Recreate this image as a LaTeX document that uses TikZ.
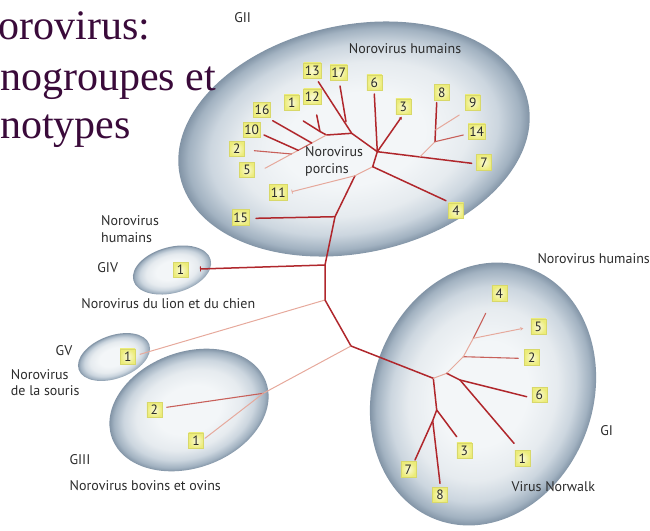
\documentclass[tikz,border=0pt]{standalone}
\usepackage{fontspec}
\setmainfont{PT Sans}
\newfontfamily\titlefont{Liberation Serif}
\usetikzlibrary{arrows.meta,calc}
\definecolor{ec0}{HTML}{F3F6F8}
\definecolor{ec1}{HTML}{E6EBEF}
\definecolor{ec2}{HTML}{CCD6DF}
\definecolor{ec3}{HTML}{A2B2C1}
\definecolor{ec4}{HTML}{8294A6}
\definecolor{dk}{HTML}{B0272C}
\definecolor{md}{HTML}{C8605A}
\definecolor{lt}{HTML}{E6A99C}
\definecolor{labfill}{HTML}{ECEC78}
\definecolor{labdraw}{HTML}{D8D86A}
\definecolor{txtc}{HTML}{2B2B2B}
\definecolor{titlec}{HTML}{3A0A3A}
\pgfdeclareradialshading{eggshade}{\pgfpointorigin}{color(0bp)=(ec0); color(10bp)=(ec0); color(16.5bp)=(ec1); color(20.5bp)=(ec2); color(23.6bp)=(ec3); color(25bp)=(ec4); color(50bp)=(ec4)}
\tikzset{
  br/.style={draw=dk, line width=1.5pt, line cap=round},
  brm/.style={draw=md, line width=1.1pt, line cap=round},
  brl/.style={draw=lt, line width=1pt, line cap=round},
  lab/.style={draw=labdraw, line width=0.6pt, inner color=white!70!labfill, outer color=labfill, text=txtc, font=\fontsize{13.5}{13.5}\selectfont, inner sep=1.2pt, minimum width=15pt, minimum height=15.5pt},
  txt/.style={font=\fontsize{14}{16.5}\selectfont, text=txtc, inner sep=0pt},
  ttl/.style={font=\titlefont\fontsize{42}{42}\selectfont, text=titlec, inner sep=0pt, anchor=base west},
  egg/.style={shading=eggshade}
}
\begin{document}
\begin{tikzpicture}[x=1pt, y=-1pt]
\useasboundingbox (0,0) rectangle (650,530);
% ellipses
\begin{scope}[transform canvas={rotate around={12:(354,139)}}]
  \shade[egg] (354,139) ellipse [x radius=178, y radius=114];
\end{scope}
\begin{scope}[transform canvas={rotate around={15:(172,270)}}]
  \shade[egg] (172,270) ellipse [x radius=40, y radius=23];
\end{scope}
\begin{scope}[transform canvas={rotate around={20:(114,357)}}]
  \shade[egg] (114,357) ellipse [x radius=37.5, y radius=21.5];
\end{scope}
\begin{scope}[transform canvas={rotate around={20:(189,410)}}]
  \shade[egg] (189,410) ellipse [x radius=82, y radius=58];
\end{scope}
\begin{scope}[transform canvas={rotate around={70:(483,394)}}]
  \shade[egg] (483,394) ellipse [x radius=134, y radius=110];
\end{scope}
% title
\node[ttl] (t1) at (-1.5,39) {orovirus:};
\node[ttl] (t2) at (0,90) {nogroupes et};
\node[ttl] (t3) at (0,138.5) {notypes};
% GII tree coordinates
\coordinate (e13) at (318.3,81.7);
\coordinate (j17) at (346,121.7);
\coordinate (e17) at (340,86);
\coordinate (P) at (351.7,133.3);
\coordinate (B) at (377.3,151.7);
\coordinate (D) at (326.5,135);
\coordinate (E) at (320,131.5);
\coordinate (e12) at (316.7,115);
\coordinate (e1) at (303.3,121);
\coordinate (e5) at (265,168.3);
\coordinate (j16) at ($(D)!0.24!(e5)$);
\coordinate (j10) at ($(D)!0.46!(e5)$);
\coordinate (j2) at ($(D)!0.57!(e5)$);
\coordinate (e16) at (272.7,120.7);
\coordinate (e10) at (264,135);
\coordinate (e2) at (254.3,150.7);
\coordinate (e6) at (374.3,94);
\coordinate (e3) at (401.7,116.7);
\coordinate (e7) at (471.7,163.3);
\coordinate (j8) at ($(B)!0.45!(e7)$);
\coordinate (K) at (435,141.7);
\coordinate (e8) at (436.7,102.7);
\coordinate (e14) at (463.3,135);
\coordinate (j9) at ($(K)!0.3!(e8)$);
\coordinate (e9) at (459.3,115);
\coordinate (A) at (372.7,166.7);
\coordinate (e4) at (446,200.7);
\coordinate (C) at (355,175.7);
\coordinate (e11) at (291.7,191.7);
\coordinate (T15) at (335,216.7);
\coordinate (e15) at (256,218.3);
\coordinate (TIV) at (325,265);
\coordinate (eIV) at (200,269);
\coordinate (TV) at (325,300);
\coordinate (eV) at (140,354.3);
\coordinate (R) at (351,346);
\coordinate (G3) at (263.3,393.3);
\coordinate (h2) at (166.7,407.3);
\coordinate (h1) at (205,438.3);
% GI coordinates
\coordinate (F) at (433.3,378.3);
\coordinate (G) at (436.7,410);
\coordinate (a3) at (456.7,436.7);
\coordinate (I) at (432.7,420.7);
\coordinate (a7) at (415,460);
\coordinate (a8) at (440,483.3);
\coordinate (H) at (446.7,373.3);
\coordinate (K2) at (460,380);
\coordinate (a6) at (526.7,396.7);
\coordinate (a1) at (514,443.3);
\coordinate (J) at (463.3,356.7);
\coordinate (a2) at (518.3,358.3);
\coordinate (L) at (473.3,338.3);
\coordinate (a4) at (485.7,313.3);
\coordinate (a5) at (523.3,328.3);
% GII branches
\draw[br] (TV) -- (TIV) -- (T15) -- (C);
\draw[brl] (C) -- (A);
\draw[br] (A) -- (B) -- (P) -- (e13);
\draw[br] (j17) -- (e17);
\draw[br] (A) -- (e4);
\draw[br] (P) -- (D) -- (E) -- (e12);
\draw[br] (E) -- (e1);
\draw[brl] (D) -- (j16);
\draw[brm] (j16) -- (j10);
\draw[brl] (j10) -- (e5);
\draw[br] (j16) -- (e16);
\draw[br] (j10) -- (e10);
\draw[brm] (j2) -- (e2);
\draw[br] (B) -- (e6);
\draw[br, -{Stealth[length=3pt, width=3.5pt]}] (B) -- (e3);
\draw[br] (B) -- (e7);
\draw[brl] (j8) -- (K);
\draw[br] (K) -- (e8);
\draw[brm] (K) -- (e14);
\draw[brl] (j9) -- (e9);
\draw[brl, -{Bar[width=4pt, line width=0.8pt]}] (C) -- (e11);
\draw[br] (T15) -- (e15);
\draw[br, -{Bar[width=5pt, line width=0.9pt]}] (TIV) -- (eIV);
\draw[brl] (TV) -- (eV);
\draw[br] (TV) -- (R);
\draw[brl] (R) -- (G3);
\draw[brm] (G3) -- (h2);
\draw[brl] (G3) -- (h1);
% GI branches
\draw[br] (R) -- (F) -- (G) -- (a3);
\draw[br] (G) -- (I) -- (a7);
\draw[br] (I) -- (a8);
\draw[brl] (F) -- (H);
\draw[br] (H) -- (K2) -- (a6);
\draw[br] (K2) -- (a1);
\draw[brl] (H) -- (J);
\draw[brm] (J) -- (a2);
\draw[brl] (J) -- (L);
\draw[brm] (L) -- (a4);
\draw[brl, -{Stealth[length=3pt, width=3.5pt]}] (L) -- (a5);
% GII labels
\node[lab] (n13) at (312.3,70.7) {13};
\node[lab] (n17) at (338.7,72.7) {17};
\node[lab] (n6) at (374.3,82.7) {6};
\node[lab] (n3) at (403.3,106.7) {3};
\node[lab] (n8) at (441.7,92.3) {8};
\node[lab] (n9) at (472.7,102.7) {9};
\node[lab] (n14) at (476.7,131.7) {14};
\node[lab] (n7) at (484,162.3) {7};
\node[lab] (n4) at (456,210.7) {4};
\node[lab] (n15) at (240.7,217.3) {15};
\node[lab] (n11) at (278.3,192.3) {11};
\node[lab] (n5) at (247,170) {5};
\node[lab] (n2) at (236.7,149) {2};
\node[lab] (n10) at (251.7,130) {10};
\node[lab] (n16) at (262,110) {16};
\node[lab] (n1) at (291.7,102.7) {1};
\node[lab] (n12) at (312.3,96.7) {12};
% other labels
\node[lab] (m1) at (180.5,270) {1};
\node[lab] (v1) at (127.7,356.7) {1};
\node[lab] (b2) at (154.3,410) {2};
\node[lab] (b1) at (196,440.7) {1};
\node[lab] (i4) at (499.3,293.3) {4};
\node[lab] (i5) at (538.3,326.7) {5};
\node[lab] (i2) at (531.7,357.3) {2};
\node[lab] (i6) at (539.3,395) {6};
\node[lab] (i1) at (522.3,458.3) {1};
\node[lab] (i3) at (464.3,450.7) {3};
\node[lab] (i7) at (408.3,469.3) {7};
\node[lab] (i8) at (440,495) {8};
% texts
\node[txt] (gII) at (242.7,17.3) {GII};
\node[txt] (nh2) at (405,49) {Norovirus humains};
\node[txt, anchor=west, align=left] (np) at (305,161.5) {Norovirus\\porcins};
\node[txt, anchor=west, align=left] (nh4) at (101,229) {Norovirus\\humains};
\node[txt] (gIV) at (107.7,267.7) {GIV};
\node[txt] (nlc) at (168.3,304) {Norovirus du lion et du chien};
\node[txt] (gV) at (64,350.7) {GV};
\node[txt, anchor=west, align=left] (ns) at (10.7,382.5) {Norovirus\\de la souris};
\node[txt] (gIII) at (80,460) {GIII};
\node[txt] (nbo) at (145.3,485.3) {Norovirus bovins et ovins};
\node[txt, anchor=east] (nh1) at (650,258.3) {Norovirus humains};
\node[txt] (gI) at (606.7,430.7) {GI};
\node[txt] (nw) at (553.3,486.7) {Virus Norwalk};
\end{tikzpicture}
\end{document}
